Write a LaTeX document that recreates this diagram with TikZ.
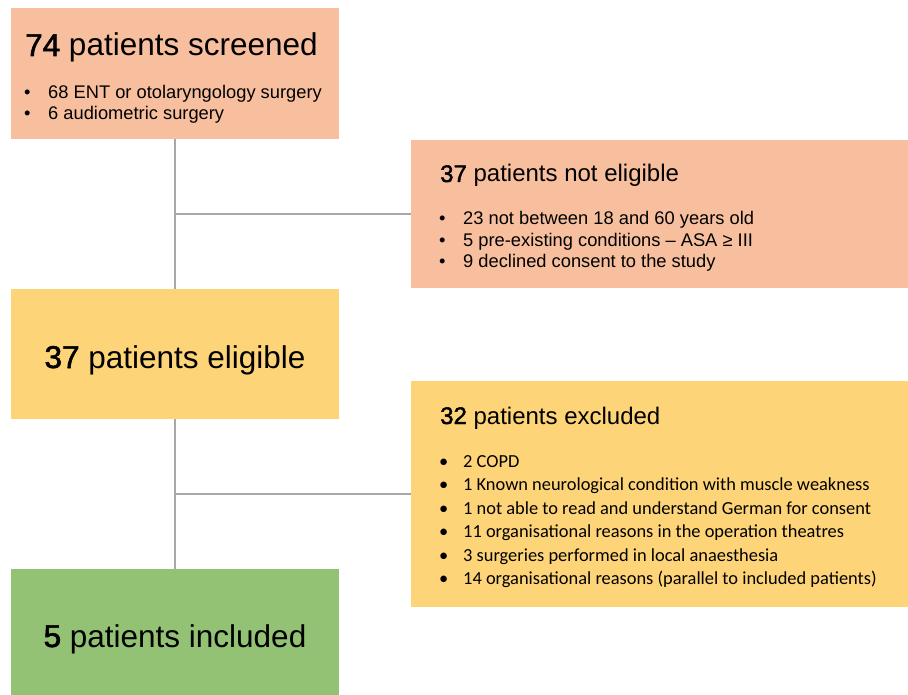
\documentclass[tikz,border=0pt]{standalone}
\usepackage{fontspec}
\setmainfont{Liberation Sans}
\newfontfamily\numfont[FakeBold=1.8]{Liberation Sans}
\newfontfamily\calfont{Carlito}
\newcommand{\countnum}[1]{{\numfont #1}}
\definecolor{salmon}{HTML}{F8BF9E}
\definecolor{melon}{HTML}{FED479}
\definecolor{leaf}{HTML}{93C275}
\definecolor{linkgray}{HTML}{A8A8A8}
\begin{document}
\begin{tikzpicture}[x=1pt,y=-1pt,
  box/.style={draw=none, inner sep=0, outer sep=0, anchor=north west},
  bigtitle/.style={inner sep=0, font=\fontsize{31.5}{36}\selectfont},
  sidetitle/.style={inner sep=0, anchor=base west, font=\fontsize{24}{28}\selectfont},
  helvitem/.style={inner sep=0, anchor=base west, font=\fontsize{18.3}{21}\selectfont},
  calitem/.style={inner sep=0, anchor=base west, font=\calfont\fontsize{18.4}{22}\selectfont},
  link/.style={draw=linkgray, line width=2.8pt}
]
\useasboundingbox (0,0) rectangle (908,695);

% boxes
\node[box, fill=salmon, minimum width=328pt, minimum height=131pt] (screened) at (11,8) {};
\node[box, fill=salmon, minimum width=497pt, minimum height=148pt] (noteligible) at (411,140) {};
\node[box, fill=melon, minimum width=328pt, minimum height=130pt] (eligible) at (11,289) {};
\node[box, fill=melon, minimum width=497pt, minimum height=226pt] (excluded) at (411,381) {};
\node[box, fill=leaf, minimum width=328pt, minimum height=126pt] (included) at (11,569) {};

% connectors
\draw[link] (screened.south) -- (eligible.north);
\draw[link] (eligible.south) -- (included.north);
\draw[link] (screened.south |- noteligible.west) -- (noteligible.west);
\draw[link] (eligible.south |- excluded.west) -- (excluded.west);

% screened
\node[bigtitle, anchor=base west] (t1) at (25,56) {\countnum{74} patients screened};
\node[helvitem] (s1) at (24,99) {\makebox[24pt][l]{\textbullet}68 ENT or otolaryngology surgery};
\node[helvitem] (s2) at (24,120) {\makebox[24pt][l]{\textbullet}6 audiometric surgery};

% not eligible
\node[sidetitle] (t2) at (440,182) {\countnum{37} patients not eligible};
\node[helvitem] (n1) at (439,225) {\makebox[24pt][l]{\textbullet}23 not between 18 and 60 years old};
\node[helvitem] (n2) at (439,246.5) {\makebox[24pt][l]{\textbullet}5 pre-existing conditions -- ASA ≥ III};
\node[helvitem] (n3) at (439,268) {\makebox[24pt][l]{\textbullet}9 declined consent to the study};

% eligible
\node[bigtitle, anchor=base] (t3) at (175,368) {\countnum{37} patients eligible};

% excluded
\node[sidetitle] (t4) at (440,424) {\countnum{32} patients excluded};
\node[calitem] (e1) at (439,467) {\makebox[24pt][l]{\textbullet}2 COPD};
\node[calitem] (e2) at (439,490.5) {\makebox[24pt][l]{\textbullet}1 Known neurological condition with muscle weakness};
\node[calitem] (e3) at (439,514) {\makebox[24pt][l]{\textbullet}1 not able to read and understand German for consent};
\node[calitem] (e4) at (439,537.5) {\makebox[24pt][l]{\textbullet}11 organisational reasons in the operation theatres};
\node[calitem] (e5) at (439,561) {\makebox[24pt][l]{\textbullet}3 surgeries performed in local anaesthesia};
\node[calitem] (e6) at (439,584.5) {\makebox[24pt][l]{\textbullet}14 organisational reasons (parallel to included patients)};

% included
\node[bigtitle, anchor=base] (t5) at (175,647) {\countnum{5} patients included};
\end{tikzpicture}
\end{document}
